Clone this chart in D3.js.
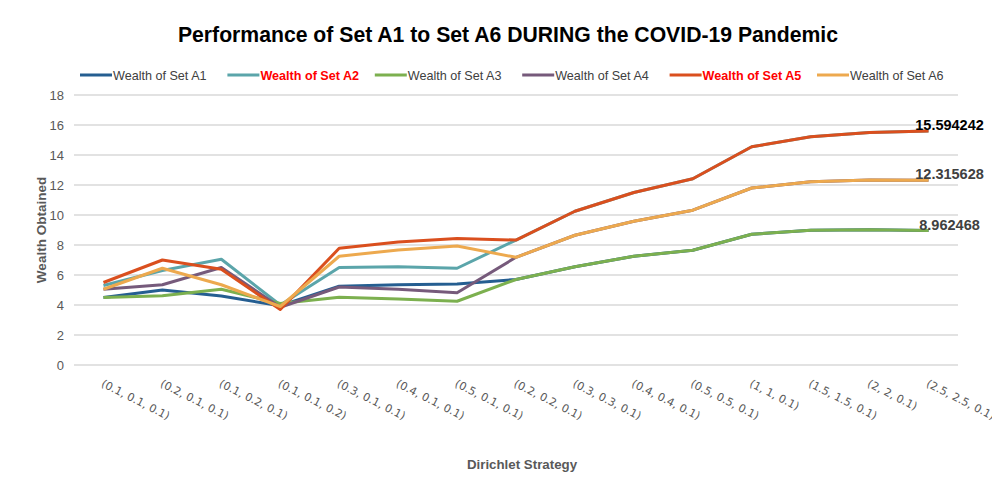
<!DOCTYPE html>
<html lang="en">
<head>
  <meta charset="UTF-8">
  <title>Performance of Set A1 to Set A6</title>
  <script src="https://cdn.jsdelivr.net/npm/d3@7"></script>
  <style>
    html, body {
      margin: 0;
      padding: 0;
      background: #fff;
    }
    svg text {
      font-family: "Liberation Sans", Arial, sans-serif;
    }
  </style>
</head>
<body>
  <svg id="chart" width="992" height="484"></svg>
  <script>
    const categories = [
      '(0.1, 0.1, 0.1)', '(0.2, 0.1, 0.1)', '(0.1, 0.2, 0.1)', '(0.1, 0.1, 0.2)',
      '(0.3, 0.1, 0.1)', '(0.4, 0.1, 0.1)', '(0.5, 0.1, 0.1)', '(0.2, 0.2, 0.1)',
      '(0.3, 0.3, 0.1)', '(0.4, 0.4, 0.1)', '(0.5, 0.5, 0.1)', '(1, 1, 0.1)',
      '(1.5, 1.5, 0.1)', '(2, 2, 0.1)', '(2.5, 2.5, 0.1)'
    ];
    const seriesNames = [
      'Wealth of Set A1', 'Wealth of Set A2', 'Wealth of Set A3',
      'Wealth of Set A4', 'Wealth of Set A5', 'Wealth of Set A6'
    ];
    const setA1 = [4.5, 5.0, 4.6, 3.95, 5.25, 5.35, 5.4, 5.7, 6.55, 7.25, 7.65, 8.72, 8.98, 9.02, 8.962468];
    const setA2 = [5.3, 6.3, 7.05, 4.0, 6.5, 6.55, 6.45, 8.33, 10.25, 11.5, 12.42, 14.55, 15.22, 15.5, 15.594242];
    const setA3 = [4.5, 4.62, 5.05, 4.1, 4.52, 4.4, 4.25, 5.7, 6.55, 7.25, 7.65, 8.72, 8.98, 9.02, 8.962468];
    const setA4 = [5.05, 5.35, 6.5, 3.85, 5.2, 5.05, 4.82, 7.18, 8.65, 9.58, 10.32, 11.8, 12.22, 12.33, 12.315628];
    const setA5 = [5.5, 7.0, 6.38, 3.7, 7.78, 8.2, 8.44, 8.33, 10.25, 11.5, 12.42, 14.55, 15.22, 15.5, 15.594242];
    const setA6 = [5.05, 6.45, 5.35, 3.9, 7.25, 7.67, 7.93, 7.18, 8.65, 9.58, 10.32, 11.8, 12.22, 12.33, 12.315628];
    const yTicks = [0, 2, 4, 6, 8, 10, 12, 14, 16, 18];
    const colors = ['#255e91', '#5ba5aa', '#7cb04f', '#765a7b', '#da4f1e', '#eda94e'];
    const legendRed = [false, true, false, false, true, false];
    // end labels on the last point: A5, A6, A3
    const endLabels = [
      {series: 4, text: '15.594242', color: '#000'},
      {series: 5, text: '12.315628', color: '#404040'},
      {series: 2, text: '8.962468', color: '#404040'}
    ];

    const allSeries = [setA1, setA2, setA3, setA4, setA5, setA6];

    const svg = d3.select('#chart');
    const plotL = 74, plotR = 958, plotT = 95, plotB = 365;

    const x = d3.scaleBand().domain(categories).range([plotL, plotR]);
    const y = d3.scaleLinear().domain([0, 18]).range([plotB, plotT]);
    const cx = c => x(c) + x.bandwidth() / 2;

    // title
    svg.append('text')
      .attr('x', 508).attr('y', 42)
      .attr('text-anchor', 'middle')
      .attr('font-size', 21.2).attr('font-weight', 'bold')
      .attr('fill', '#000')
      .text('Performance of Set A1 to Set A6 DURING the COVID-19 Pandemic');

    // gridlines
    svg.append('g').selectAll('line').data(yTicks).join('line')
      .attr('x1', plotL).attr('x2', plotR)
      .attr('y1', d => y(d)).attr('y2', d => y(d))
      .attr('stroke', '#d9d9d9').attr('stroke-width', 1.3);

    // y axis labels
    const yAxis = svg.append('g')
      .attr('transform', `translate(${plotL},0)`)
      .call(d3.axisLeft(y).tickValues(yTicks).tickSize(0).tickPadding(10));
    yAxis.select('.domain').remove();
    yAxis.selectAll('text')
      .attr('font-size', 13).attr('fill', '#595959')
      .style('font-family', '"Liberation Sans", Arial, sans-serif');

    svg.append('text')
      .attr('transform', `translate(46,${(plotT + plotB) / 2}) rotate(-90)`)
      .attr('text-anchor', 'middle')
      .attr('font-size', 13.5).attr('font-weight', 'bold').attr('fill', '#595959')
      .text('Wealth Obtained');

    // x labels
    const xAxis = svg.append('g')
      .attr('transform', `translate(0,${plotB})`)
      .call(d3.axisBottom(x).tickSize(0).tickPadding(0));
    xAxis.select('.domain').remove();
    xAxis.selectAll('text')
      .attr('text-anchor', 'start')
      .attr('dy', 0)
      .attr('transform', 'translate(-3,21) rotate(27)')
      .attr('font-size', 11).attr('fill', '#595959')
      .style('font-family', '"DejaVu Sans", sans-serif');

    svg.append('text')
      .attr('x', 522).attr('y', 469)
      .attr('text-anchor', 'middle')
      .attr('font-size', 13.3).attr('font-weight', 'bold').attr('fill', '#595959')
      .text('Dirichlet Strategy');

    // lines
    const line = d3.line()
      .x((d, i) => cx(categories[i]))
      .y(d => y(d));

    svg.append('g').selectAll('path').data(allSeries).join('path')
      .attr('d', line)
      .attr('fill', 'none')
      .attr('stroke', (d, i) => colors[i])
      .attr('stroke-width', 3)
      .attr('stroke-linejoin', 'round');

    // end labels
    const last = categories.length - 1;
    svg.append('g').selectAll('text').data(endLabels).join('text')
      .attr('x', cx(categories[last]) + 21)
      .attr('y', d => y(allSeries[d.series][last]) - 1)
      .attr('text-anchor', 'middle')
      .attr('font-size', 14.5).attr('font-weight', 'bold')
      .attr('fill', d => d.color)
      .text(d => d.text);

    // legend
    const legend = svg.append('g').selectAll('g').data(seriesNames).join('g')
      .attr('transform', (d, i) => `translate(${80 + i * 147.4},75)`);
    legend.append('line')
      .attr('x1', 0).attr('x2', 32)
      .attr('stroke', (d, i) => colors[i]).attr('stroke-width', 3);
    legend.append('text')
      .attr('x', 33).attr('y', 4.5)
      .attr('font-size', 12.6)
      .attr('font-weight', (d, i) => legendRed[i] ? 'bold' : 'normal')
      .attr('fill', (d, i) => legendRed[i] ? '#ff0000' : '#404040')
      .text(d => d);
  </script>
</body>
</html>
